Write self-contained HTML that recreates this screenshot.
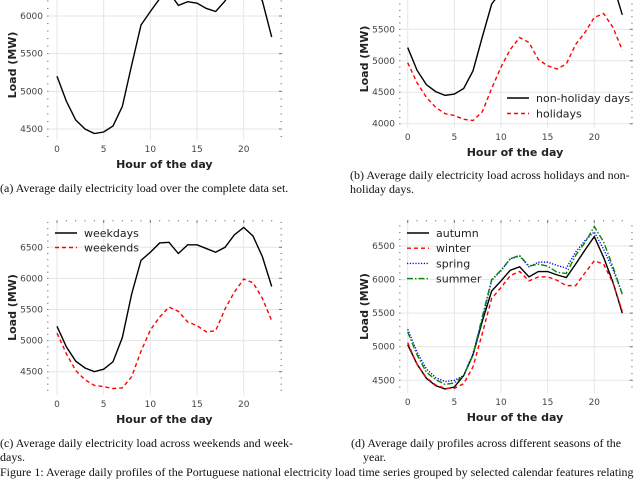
<!DOCTYPE html>
<html><head><meta charset="utf-8"><style>
body{margin:0;width:640px;height:480px;overflow:hidden;background:#fff;font-family:"Liberation Serif",serif}
.cap{position:absolute;font-family:"Liberation Serif",serif;font-size:12px;color:#111;white-space:nowrap;line-height:14px}
</style></head><body>
<svg id="chart" width="640" height="480" style="position:absolute;left:0;top:0" font-family="DejaVu Sans, sans-serif"></svg>
<div class="cap" style="left:0;top:181px">(a) Average daily electricity load over the complete data set.</div>
<div class="cap" style="left:350px;top:168px">(b) Average daily electricity load across holidays and non-<br>holiday days.</div>
<div class="cap" style="left:0;top:436px">(c) Average daily electricity load across weekends and week-<br>days.</div>
<div class="cap" style="left:351px;top:436px">(d) Average daily profiles across different seasons of the<br><span style="padding-left:12px">year.</span></div>
<div class="cap" style="left:0;top:465px">Figure 1: Average daily profiles of the Portuguese national electricity load time series grouped by selected calendar features relating</div>
<script>
const hours=[0,1,2,3,4,5,6,7,8,9,10,11,12,13,14,15,16,17,18,19,20,21,22,23];
const xTicks=[0,5,10,15,20];
const allDays=[5200,4870,4620,4500,4440,4460,4540,4800,5350,5880,6060,6230,6320,6140,6190,6170,6100,6060,6200,6400,6500,6400,6200,5720];
const nonHoliday=[5210,4850,4620,4510,4450,4470,4560,4840,5380,5900,6100,6250,6330,6150,6200,6180,6110,6070,6220,6420,6520,6420,6220,5730];
const holidays=[4970,4650,4420,4260,4160,4130,4070,4050,4190,4560,4900,5180,5370,5290,5020,4920,4870,4950,5260,5450,5690,5750,5530,5170];
const weekdays=[5230,4900,4670,4560,4500,4540,4660,5050,5750,6290,6420,6570,6580,6400,6540,6540,6480,6420,6500,6700,6820,6680,6350,5870];
const weekends=[5120,4790,4520,4370,4280,4260,4230,4240,4420,4830,5170,5380,5540,5470,5300,5240,5140,5160,5510,5780,5990,5930,5680,5320];
const autumn=[5030,4740,4530,4420,4370,4400,4570,4880,5380,5830,5980,6140,6190,6040,6120,6120,6070,6030,6230,6440,6640,6330,5960,5500];
const winter=[5060,4740,4540,4430,4380,4380,4450,4700,5200,5720,5880,6060,6120,5980,6040,6040,5990,5910,5910,6100,6280,6230,5950,5530];
const spring=[5260,4920,4670,4540,4480,4500,4570,4900,5400,5990,6130,6310,6350,6190,6260,6260,6210,6170,6410,6580,6710,6450,6150,5790];
const summer=[5220,4880,4620,4510,4440,4460,4570,4880,5450,6000,6140,6310,6360,6200,6230,6200,6110,6090,6360,6550,6790,6560,6190,5780];
const yTicksA=[4500,5000,5500,6000];
const yTicksB=[4000,4500,5000,5500];
const yTicksC=[4500,5000,5500,6000,6500];
const yTicksD=[4500,5000,5500,6000,6500];

const svg=document.getElementById('chart');
const NS='http://www.w3.org/2000/svg';
function el(t,a,p){const e=document.createElementNS(NS,t);for(const k in a)e.setAttribute(k,a[k]);(p||svg).appendChild(e);return e;}

function panel(cfg){
  const g=el('g',{});
  
  
  const x=h=>cfg.x0+(h)*(cfg.x20-cfg.x0)/20;
  const y=v=>cfg.yA+(v-cfg.vA)*(cfg.yB-cfg.yA)/(cfg.vB-cfg.vA);
  const clipId='clip'+cfg.name;
  const cp=el('clipPath',{id:clipId},g);el('rect',{x:cfg.left,y:cfg.top,width:cfg.right-cfg.left,height:cfg.bottom-cfg.top},cp);
  xTicks.forEach(t=>{const l=el('line',{x1:x(t),x2:x(t),y1:cfg.top,y2:cfg.bottom,stroke:'#e6e6e6','stroke-width':1},g);
    
    const tx=el('text',{x:x(t),y:cfg.bottom+12,'font-size':9,fill:'#444','text-anchor':'middle'},g);tx.textContent=t;
    
    el('line',{x1:x(t),x2:x(t),y1:cfg.top,y2:cfg.top+3,stroke:'#777'},g);});
  cfg.yTicks.forEach(t=>{const l=el('line',{x1:cfg.left,x2:cfg.right,y1:y(t),y2:y(t),stroke:'#e6e6e6','stroke-width':1},g);
    
    const tx=el('text',{x:cfg.left-4,y:y(t)+3,'font-size':9,fill:'#444','text-anchor':'end'},g);tx.textContent=t;
    
    el('line',{x1:cfg.right-3,x2:cfg.right,y1:y(t),y2:y(t),stroke:'#777'},g);});
  for(let h=0;h<=23;h++){el('line',{x1:x(h),x2:x(h),y1:cfg.top,y2:cfg.top+1.5,stroke:'#888'},g);}
  const vmin=Math.ceil((cfg.vA+(cfg.bottom-cfg.yA)*(cfg.vB-cfg.vA)/(cfg.yB-cfg.yA))/100)*100;
  for(let v=vmin;y(v)>=cfg.top;v+=100){[cfg.left,cfg.right-1.5].forEach(xx=>el('line',{x1:xx,x2:xx+1.5,y1:y(v),y2:y(v),stroke:'#888'},g));}
  const xt=el('text',{x:x(11.5),y:cfg.bottom+28,'font-size':11,'font-weight':'bold',fill:'#222','text-anchor':'middle'},g);xt.textContent='Hour of the day';
  
  const yc=(cfg.top+cfg.bottom)/2;
  const yt=el('text',{x:cfg.left-31,y:yc,'font-size':11,'font-weight':'bold',fill:'#222','text-anchor':'middle',transform:`rotate(-90 ${cfg.left-31} ${yc})`},g);yt.textContent='Load (MW)';
  
  const sg=el('g',{'clip-path':`url(#${clipId})`},g);
  cfg.series.forEach(s=>{
    const p=el('polyline',{points:hours.map((h,i)=>x(h)+','+y(s.data[i])).join(' '),fill:'none',stroke:s.color,'stroke-width':1.4,'stroke-dasharray':s.dash||'none'},sg);
    
  });
  if(cfg.legend){
    cfg.series.forEach((s,i)=>{
      const ly=cfg.legend.y+i*cfg.legend.dy;
      el('line',{x1:cfg.legend.x,x2:cfg.legend.x+22,y1:ly,y2:ly,stroke:s.color,'stroke-width':1.4,'stroke-dasharray':s.dash||'none'},g);
      const t=el('text',{x:cfg.legend.x+29,y:ly+4,'font-size':11,fill:'#222'},g);t.textContent=s.label;
      
    });
  }
}
panel({name:'panel-a',x0:57,x20:243.7,left:47,right:282,top:-10,bottom:140,vA:6000,yA:16,vB:4500,yB:129,yTicks:yTicksA,
  series:[{data:allDays,color:'#000',label:'all days'}]});
panel({name:'panel-b',x0:407.7,x20:594.3,left:399,right:632.7,top:-10,bottom:128,vA:5500,yA:29.3,vB:4000,yB:123.7,yTicks:yTicksB,
  series:[{data:nonHoliday,color:'#000',label:'non-holiday days'},{data:holidays,color:'#f00',dash:'4,3',label:'holidays'}],
  legend:{x:507,y:98,dy:15.5}});
panel({name:'panel-c',x0:57,x20:243.7,left:47,right:282,top:220,bottom:395,vA:6500,yA:247.3,vB:4500,yB:371.7,yTicks:yTicksC,
  series:[{data:weekdays,color:'#000',label:'weekdays'},{data:weekends,color:'#f00',dash:'4,3',label:'weekends'}],
  legend:{x:55,y:233,dy:14.5}});
panel({name:'panel-d',x0:407.7,x20:594.3,left:399,right:632.7,top:220,bottom:393,vA:6500,yA:246,vB:4500,yB:380.3,yTicks:yTicksD,
  series:[{data:autumn,color:'#000',label:'autumn'},{data:winter,color:'#f00',dash:'4,3',label:'winter'},{data:spring,color:'#00f',dash:'1.2,1.6',label:'spring'},{data:summer,color:'#080',dash:'6,2,1.5,2',label:'summer'}],
  legend:{x:407,y:233,dy:15.2}});
</script>
</body></html>
